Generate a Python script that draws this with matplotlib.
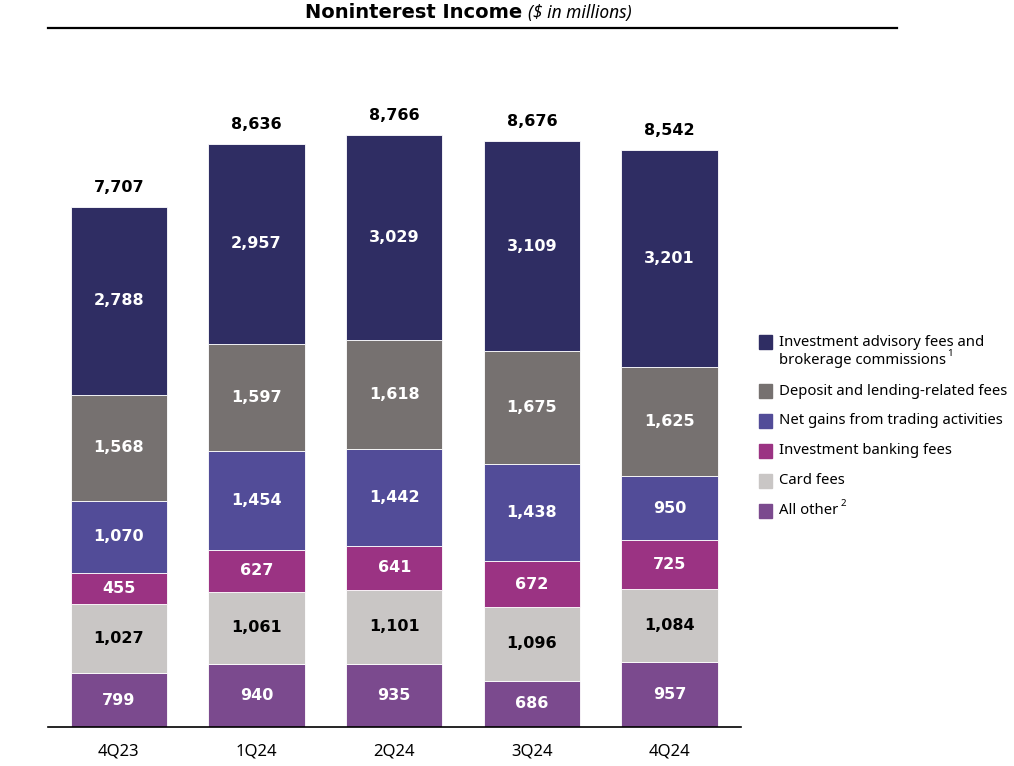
import matplotlib.pyplot as plt
from matplotlib.patches import Rectangle

plt.rcParams['font.family'] = ['Noto Sans', 'DejaVu Sans']
BOLD = ['DejaVu Sans']

quarters = ["4Q23", "1Q24", "2Q24", "3Q24", "4Q24"]
all_other = [799, 940, 935, 686, 957]
card_fees = [1027, 1061, 1101, 1096, 1084]
ib_fees = [455, 627, 641, 672, 725]
trading = [1070, 1454, 1442, 1438, 950]
deposit = [1568, 1597, 1618, 1675, 1625]
advisory = [2788, 2957, 3029, 3109, 3201]
totals = [7707, 8636, 8766, 8676, 8542]

series = [
    ("All other", all_other, "#7B4A8E", "white"),
    ("Card fees", card_fees, "#C9C6C5", "black"),
    ("Investment banking fees", ib_fees, "#9B3383", "white"),
    ("Net gains from trading activities", trading, "#524C98", "white"),
    ("Deposit and lending-related fees", deposit, "#767170", "white"),
    ("Investment advisory fees and\nbrokerage commissions", advisory, "#2F2D63", "white"),
]

fig = plt.figure(figsize=(10.14, 7.66), dpi=100)
ax = fig.add_axes([0.0473, 0.0509, 0.683, 0.897])

x = list(range(len(quarters)))
bottom = [0] * len(quarters)
for name, vals, color, tcolor in series:
    ax.bar(x, vals, width=0.7, bottom=bottom, color=color, edgecolor="white", linewidth=0.6)
    for i, v in enumerate(vals):
        ax.text(i, bottom[i] + v / 2, f"{v:,}", ha="center", va="center",
                color=tcolor, fontsize=11.5, fontweight="bold", family=BOLD)
    bottom = [b + v for b, v in zip(bottom, vals)]

for i, t in enumerate(totals):
    ax.text(i, t + 180, f"{t:,}", ha="center", va="bottom", fontsize=11.5,
            fontweight="bold", family=BOLD)

ax.set_xlim(-0.515, 4.515)
ax.set_ylim(0, 10180)
ax.set_xticks(x)
ax.set_xticklabels(quarters, fontsize=12)
ax.tick_params(axis="x", length=0, pad=12)
ax.set_yticks([])
for s in ["top", "right", "left"]:
    ax.spines[s].set_visible(False)
ax.spines["bottom"].set_linewidth(1.2)

W, H = 1014, 766

# title and rule
fig.text(522 / W, 1 - 13 / H, "Noninterest Income", ha="right", va="center", fontsize=14,
         fontweight="bold", family=BOLD)
fig.text(528 / W, 1 - 13 / H, "($ in millions)", ha="left", va="center", fontsize=12.5, style="italic")
fig.add_artist(plt.Line2D([48 / W, 897 / W], [1 - 28 / H, 1 - 28 / H], color="black", linewidth=1.6))

# legend
legend_rows = [
    (342, "#2F2D63", "Investment advisory fees and"),
    (391, "#767170", "Deposit and lending-related fees"),
    (421, "#524C98", "Net gains from trading activities"),
    (451, "#9B3383", "Investment banking fees"),
    (481, "#C9C6C5", "Card fees"),
    (511, "#7B4A8E", "All other"),
]
for y, color, label in legend_rows:
    fig.add_artist(Rectangle((759 / W, 1 - (y + 7) / H), 13 / W, 14 / H, color=color, transform=fig.transFigure))
    fig.text(779 / W, 1 - y / H, label, ha="left", va="center", fontsize=10.7)
fig.text(779 / W, 1 - 361 / H, "brokerage commissions", ha="left", va="center", fontsize=10.7)
fig.text(947 / W, 1 - 353 / H, "1", ha="left", va="center", fontsize=7)
fig.text(841 / W, 1 - 504 / H, "2", ha="left", va="center", fontsize=7)

fig.savefig("out.png", dpi=100)
